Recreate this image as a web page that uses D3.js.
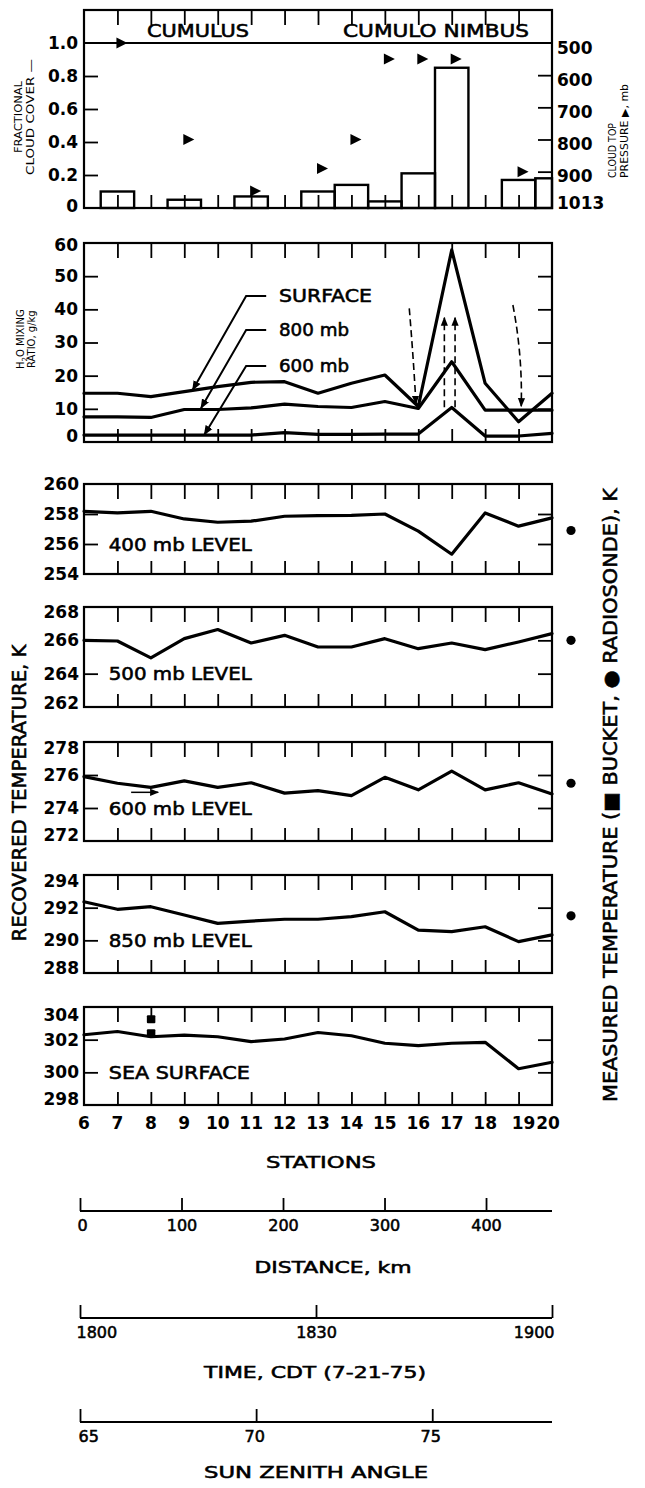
<!DOCTYPE html>
<html><head><meta charset="utf-8">
<script src="https://cdn.jsdelivr.net/npm/d3@7"></script>
<style>body{margin:0;background:#fff} svg{display:block}</style>
</head><body>
<script>
// ---------------- DATA ----------------
const stations = [6,7,8,9,10,11,12,13,14,15,16,17,18,19,20];
const cloudCover = [0,0.10,0,0.05,0,0.07,0,0.10,0.14,0.04,0.21,0.85,0,0.17,0.18];
const cloudTopStations = [7,9,11,13,14,15,16,17,19];
const cloudTopPressure = [500,800,960,890,800,550,550,550,900];
const cloudCoverTicks = [0,0.2,0.4,0.6,0.8,1.0];
const pressureTicks = [500,600,700,800,900,1013];
const h2oSurface = [14.7,14.7,13.7,15.2,16.7,18.0,18.2,14.7,17.7,20.2,10.7,57.9,17.7,6.1,14.7];
const h2o800 = [7.6,7.6,7.4,9.8,9.8,10.3,11.4,10.7,10.4,12.2,10.1,24.2,9.6,9.6,9.6];
const h2o600 = [2.1,2.1,2.1,2.1,2.1,2.1,2.8,2.3,2.3,2.4,2.4,10.4,1.8,1.8,2.6];
const h2oTicks = [0,10,20,30,40,50,60];
const temp400 = [258.18,258.07,258.18,257.67,257.45,257.52,257.85,257.89,257.91,258.0,256.86,255.32,258.07,257.19,257.74];
const temp500 = [266.0,265.96,264.95,266.1,266.65,265.84,266.3,265.6,265.6,266.1,265.5,265.84,265.44,265.9,266.4];
const temp600 = [275.9,275.5,275.25,275.64,275.25,275.53,274.9,275.05,274.75,275.86,275.1,276.24,275.1,275.53,274.85];
const temp850 = [292.36,291.9,292.06,291.55,291.04,291.18,291.29,291.29,291.45,291.75,290.63,290.53,290.83,289.92,290.33];
const tempSea = [302.3,302.5,302.18,302.28,302.18,301.88,302.04,302.44,302.24,301.78,301.64,301.78,301.84,300.22,300.62];
const ticks400 = [254,256,258,260];
const ticks500 = [262,264,266,268];
const ticks600 = [272,274,276,278];
const ticks850 = [288,290,292,294];
const ticksSea = [298,300,302,304];
const radiosondeTemps = [256.9,266.0,275.5,291.5];   // 400, 500, 600, 850 mb
const bucketStation = 8;
const bucketTemps = [303.25,302.4];
const distanceTicks = [0,100,200,300,400];
const timeTicks = ["18:00","18:30","19:00"];
const zenithTicks = [65,70,75];

// ---------------- LAYOUT ----------------
const W = 645, H = 1488;
const svg = d3.select("body").append("svg").attr("width", W).attr("height", H)
  .style("font-family", "'DejaVu Sans', sans-serif");
const x = d3.scaleLinear().domain([6,20]).range([84,552]);
const L = x(6), R = x(20);
const NUM = "font-family:'DejaVu Sans';font-weight:bold;font-size:17px";

function boxAndStationTicks(top, bottom, topLen, botLen) {
  svg.append("rect").attr("x", L).attr("y", top).attr("width", R-L).attr("height", bottom-top)
    .attr("fill","none").attr("stroke","#000").attr("stroke-width",2.2);
  const inner = stations.slice(1,-1);
  const gt = svg.append("g").attr("transform",`translate(0,${top})`)
    .call(d3.axisBottom(x).tickValues(inner).tickSize(topLen).tickFormat(""));
  const gb = svg.append("g").attr("transform",`translate(0,${bottom})`)
    .call(d3.axisTop(x).tickValues(inner).tickSize(botLen).tickFormat(""));
  [gt,gb].forEach(g=>{ g.select(".domain").remove(); g.selectAll("line").attr("stroke","#000").attr("stroke-width",1.8); });
}
function sideTicks(scale, vals, len, side) {
  const ax = side === "left" ? d3.axisRight(scale) : d3.axisLeft(scale);
  const g = svg.append("g").attr("transform",`translate(${side==="left"?L:R},0)`)
    .call(ax.tickValues(vals).tickSize(len).tickFormat(""));
  g.select(".domain").remove();
  g.selectAll("line").attr("stroke","#000").attr("stroke-width",1.8);
}
function leftLabels(scale, vals, fmt, shiftTop, shiftBot) {
  const g = svg.append("g").attr("transform",`translate(${L},0)`)
    .call(d3.axisLeft(scale).tickValues(vals).tickSize(0).tickPadding(5).tickFormat(fmt));
  g.select(".domain").remove();
  g.selectAll("text").attr("style", NUM).attr("fill","#000")
    .attr("dy", d => d === d3.max(vals) ? (0.32*17+shiftTop)+"px" : d === d3.min(vals) ? (0.32*17+shiftBot)+"px" : "0.32em");
}
function lineOf(yScale, vals, width) {
  svg.append("path").datum(vals)
    .attr("d", d3.line().x((d,i)=>x(stations[i])).y(d=>yScale(d)))
    .attr("fill","none").attr("stroke","#000").attr("stroke-width",width||3.2)
    .attr("stroke-linejoin","round").attr("stroke-linecap","round");
}
function heavy(t, w) { return t.attr("stroke","#000").attr("stroke-width", w||0.55); }
function rotText(tx, ty, str, size, len, anchor) {
  const t = svg.append("text").attr("transform",`translate(${tx},${ty}) rotate(-90)`)
    .attr("text-anchor", anchor||"middle").attr("font-size", size).text(str);
  if (len) t.attr("textLength", len).attr("lengthAdjust","spacingAndGlyphs");
  return t;
}
function plainText(tx, ty, str, size, len, anchor) {
  const t = svg.append("text").attr("x",tx).attr("y",ty).attr("text-anchor",anchor||"start")
    .attr("font-size",size).text(str);
  if (len) t.attr("textLength", len).attr("lengthAdjust","spacingAndGlyphs");
  return t;
}
// arrow markers
const defs = svg.append("defs");
defs.append("marker").attr("id","ah").attr("viewBox","0 0 10 10").attr("refX",9).attr("refY",5)
  .attr("markerWidth",10).attr("markerHeight",10).attr("markerUnits","userSpaceOnUse").attr("orient","auto")
  .append("path").attr("d","M0,1 L10,5 L0,9 Z").attr("fill","#000");
defs.append("marker").attr("id","ahs").attr("viewBox","0 0 10 10").attr("refX",9).attr("refY",5)
  .attr("markerWidth",9).attr("markerHeight",9).attr("markerUnits","userSpaceOnUse").attr("orient","auto")
  .append("path").attr("d","M0,1 L10,5 L0,9 Z").attr("fill","#000");

// ---------------- PANEL 1: CLOUD COVER ----------------
const yC = d3.scaleLinear().domain([0,1]).range([208,43]);
const yP = d3.scaleLinear().domain([500,1013]).range([43,208]);
boxAndStationTicks(10, 208, 15, 13);
svg.append("line").attr("x1",L).attr("x2",R).attr("y1",yC(1)).attr("y2",yC(1)).attr("stroke","#000").attr("stroke-width",2.2);
sideTicks(yC, [0.2,0.4,0.6,0.8], 14, "left");
sideTicks(yP, [600,700,800,900], 14, "right");
{
  const g = svg.append("g").attr("transform",`translate(${L},0)`)
    .call(d3.axisLeft(yC).tickValues(cloudCoverTicks).tickSize(0).tickPadding(6)
      .tickFormat(d => d===0 ? "0" : d3.format(".1f")(d)));
  g.select(".domain").remove();
  g.selectAll("text").attr("style", NUM).attr("fill","#000").attr("dy", d => d===0 ? "0.2em" : "0.32em");
  const g2 = svg.append("g").attr("transform",`translate(${R},0)`)
    .call(d3.axisRight(yP).tickValues(pressureTicks).tickSize(0).tickPadding(5).tickFormat(d3.format("d")));
  g2.select(".domain").remove();
  g2.selectAll("text").attr("style", NUM).attr("fill","#000").attr("dy", d => d===1013 ? "0.05em" : "0.6em");
}
// bars (outlined steps)
svg.append("g").selectAll("rect").data(stations.map((s,i)=>({s, v: cloudCover[i]})).filter(d=>d.v>0))
  .join("rect")
  .attr("x", d => Math.max(L, x(d.s-0.5)))
  .attr("width", d => Math.min(R, x(d.s+0.5)) - Math.max(L, x(d.s-0.5)))
  .attr("y", d => yC(d.v)).attr("height", d => yC(0)-yC(d.v))
  .attr("fill","none").attr("stroke","#000").attr("stroke-width",2.4);
// cloud top triangles
svg.append("g").selectAll("path").data(cloudTopStations.map((s,i)=>({s, p: cloudTopPressure[i]})))
  .join("path").attr("transform", d => `translate(${x(d.s)+3},${yP(d.p)})`)
  .attr("d","M-4,-5.5 L7,0 L-4,5.5 Z").attr("fill","#000");
heavy(plainText(198, 37, "CUMULUS", 17, 102, "middle"));
heavy(plainText(436, 37, "CUMULO NIMBUS", 17, 186, "middle"));
rotText(22, 117, "FRACTIONAL", 10, 72);
rotText(34, 117, "CLOUD COVER \u2014", 10, 116);
rotText(616, 178, "CLOUD TOP", 10, 55, "start");
rotText(628, 178, "PRESSURE \u25B6, mb", 10, 94, "start");

// ---------------- PANEL 2: H2O ----------------
const yH = d3.scaleLinear().domain([0,60]).range([442,243]);
boxAndStationTicks(yH(60), yH(0), 15, 13);
sideTicks(yH, [10,20,30,40,50], 14, "left");
sideTicks(yH, [10,20,30,40,50], 14, "right");
{
  const g = svg.append("g").attr("transform",`translate(${L},0)`)
    .call(d3.axisLeft(yH).tickValues(h2oTicks).tickSize(0).tickPadding(6).tickFormat(d3.format("d")));
  g.select(".domain").remove();
  g.selectAll("text").attr("style", NUM).attr("fill","#000")
    .attr("dy", d => d===0 ? "-0.05em" : d===60 ? "0.45em" : "0.32em");
}
lineOf(yH, h2oSurface); lineOf(yH, h2o800); lineOf(yH, h2o600);
// labels with leader arrows
[
  {t:"SURFACE", v:44.0, tip:[9.25,15.7], len:93},
  {t:"800 mb",  v:33.8, tip:[9.5,10.2], len:70},
  {t:"600 mb",  v:22.9, tip:[9.6,2.2], len:70}
].forEach(a => {
  heavy(plainText(279, yH(a.v)+6, a.t, 17, a.len));
  svg.append("path").attr("d", `M${x(11.45)},${yH(a.v)} L${x(10.85)},${yH(a.v)} L${x(a.tip[0])},${yH(a.tip[1])}`)
    .attr("fill","none").attr("stroke","#000").attr("stroke-width",2).attr("marker-end","url(#ah)");
});
// dashed arrows
const dash = p => svg.append("path").attr("d",p).attr("fill","none").attr("stroke","#000")
  .attr("stroke-width",1.6).attr("stroke-dasharray","7,4").attr("marker-end","url(#ahs)");
dash(`M${x(15.73)},${yH(40.3)} Q${x(15.85)},${yH(26)} ${x(15.93)},${yH(11.5)}`);
dash(`M${x(16.78)},${yH(10.5)} L${x(16.78)},${yH(37.5)}`);
dash(`M${x(17.1)},${yH(10.5)} L${x(17.1)},${yH(37.5)}`);
dash(`M${x(18.83)},${yH(41.3)} Q${x(19.12)},${yH(26)} ${x(19.08)},${yH(10.8)}`);
// y title
{
  const t = svg.append("text").attr("transform",`translate(24,${yH(31)}) rotate(-90)`).attr("text-anchor","middle").attr("font-size",10);
  t.append("tspan").attr("x",0).attr("dy",0).text("H");
  t.append("tspan").attr("font-size",7).attr("dy",3).text("2");
  t.append("tspan").attr("dy",-3).text("O MIXING");
  svg.append("text").attr("transform",`translate(35,${yH(31)}) rotate(-90)`).attr("text-anchor","middle")
    .attr("font-size",10).text("RATIO, g/kg");
}

// ---------------- TEMPERATURE PANELS ----------------
const tPanels = [
  {vals: temp400, ticks: ticks400, top:484, bot:574, label:"400 mb LEVEL", lab:256, rs: radiosondeTemps[0], st:0, sb:0},
  {vals: temp500, ticks: ticks500, top:607, bot:707, label:"500 mb LEVEL", lab:264, rs: radiosondeTemps[1], st:5, sb:-4},
  {vals: temp600, ticks: ticks600, top:742, bot:841, label:"600 mb LEVEL", lab:274, rs: radiosondeTemps[2], st:6, sb:-6},
  {vals: temp850, ticks: ticks850, top:875, bot:973, label:"850 mb LEVEL", lab:290, rs: radiosondeTemps[3], st:6, sb:-5},
  {vals: tempSea, ticks: ticksSea, top:1007, bot:1105, label:"SEA SURFACE", lab:300, rs: null, st:8, sb:-6}
];
const scales = [];
tPanels.forEach(p => {
  const y = d3.scaleLinear().domain([d3.min(p.ticks), d3.max(p.ticks)]).range([p.bot, p.top]);
  scales.push(y);
  boxAndStationTicks(p.top, p.bot, 15, 13);
  const mids = p.ticks.slice(1,-1);
  sideTicks(y, mids, 14, "left");
  sideTicks(y, mids, 14, "right");
  leftLabels(y, p.ticks, d3.format("d"), p.st, p.sb);
  lineOf(y, p.vals);
  heavy(plainText(x(6.74), y(p.lab)+6.5, p.label, 17, p.label==="SEA SURFACE" ? 141 : 143));
  if (p.rs !== null) svg.append("circle").attr("cx", 571).attr("cy", y(p.rs)).attr("r", 4.6).attr("fill","#000");
});
// bucket squares on sea surface
svg.append("g").selectAll("rect").data(bucketTemps).join("rect")
  .attr("x", x(bucketStation)-4).attr("y", d => scales[4](d)-4).attr("width",8.5).attr("height",8)
  .attr("rx",1).attr("fill","#000");
// small arrow over "600" label
svg.append("path").attr("d",`M${x(7.41)},${scales[2](274.95)} L${x(8.22)},${scales[2](274.95)}`)
  .attr("stroke","#000").attr("stroke-width",1.5).attr("marker-end","url(#ahs)");

// station tick labels
svg.append("g").selectAll("text").data(stations).join("text")
  .attr("x", d => x(d) + (d===19 ? 5 : d===20 ? -4 : 0)).attr("y", 1129).attr("text-anchor","middle")
  .attr("style", NUM).text(d => d);
heavy(plainText(321, 1168, "STATIONS", 16, 110, "middle"));
heavy(rotText(26, 793, "RECOVERED TEMPERATURE, K", 19, 297));
heavy(rotText(617, 795, "MEASURED TEMPERATURE (\u25A0 BUCKET, \u25CF RADIOSONDE), K", 19, 614));

// ---------------- BOTTOM AXES ----------------
function bottomAxis(scale, yLine, vals, fmt, anchors, dxs, title, titleX, titleY, titleLen) {
  const g = svg.append("g").attr("transform",`translate(0,${yLine})`)
    .call(d3.axisBottom(scale).tickValues(vals).tickSize(-13).tickPadding(8).tickFormat(fmt));
  g.select(".domain").remove();
  g.selectAll("line").attr("stroke","#000").attr("stroke-width",1.8);
  g.selectAll("text").attr("style","font-family:'DejaVu Sans';font-size:16px").attr("fill","#000")
    .attr("stroke","#000").attr("stroke-width",0.55)
    .attr("text-anchor", (d,i) => anchors[i]).attr("dx", (d,i) => dxs[i]).attr("dy","0.72em");
  const r = scale.range();
  svg.append("line").attr("x1",r[0]).attr("x2",r[1]).attr("y1",yLine).attr("y2",yLine)
    .attr("stroke","#000").attr("stroke-width",2.2);
  heavy(plainText(titleX, titleY, title, 16, titleLen, "middle"));
}
const xDist = d3.scaleLinear().domain([0,465]).range([80,552]);
bottomAxis(xDist, 1211, distanceTicks, d3.format("d"), ["middle","middle","middle","middle","middle"], [2,0,0,0,0],
  "DISTANCE, km", 333, 1273, 157);
const parseT = d3.timeParse("%H:%M");
const xTime = d3.scaleTime().domain([parseT("18:00"), parseT("19:00")]).range([80,552]);
bottomAxis(xTime, 1318, timeTicks.map(parseT), d3.timeFormat("%H%M"), ["start","middle","end"], [-4,0,2],
  "TIME, CDT (7-21-75)", 315, 1378, 222);
const xZen = d3.scaleLinear().domain([65,78.4]).range([80,552]);
bottomAxis(xZen, 1422, zenithTicks, d3.format("d"), ["start","middle","middle"], [-2,-2,-2],
  "SUN ZENITH ANGLE", 316, 1478, 224);
</script>
</body></html>
